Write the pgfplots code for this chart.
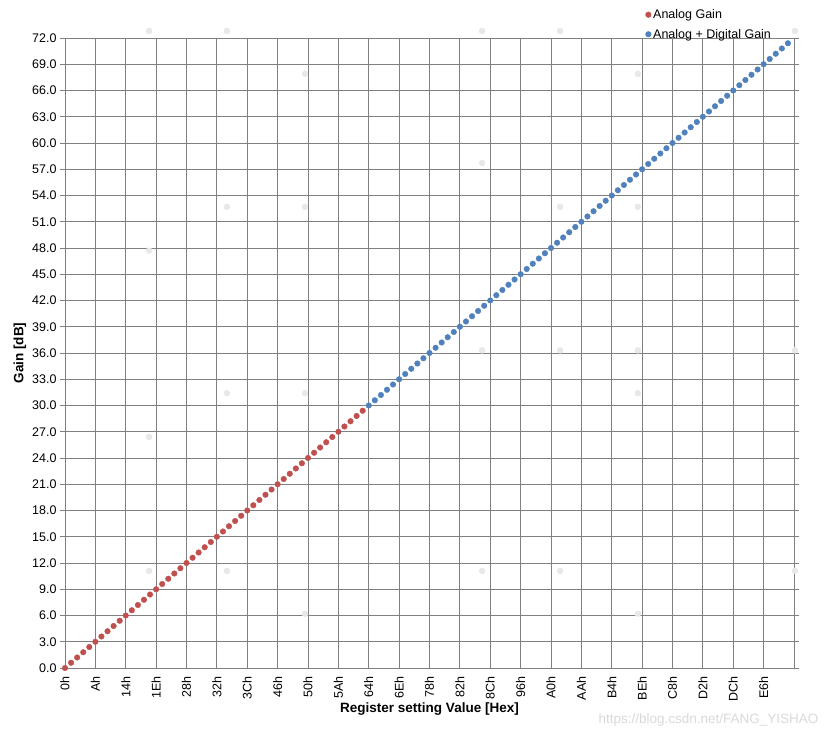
\documentclass[border=0pt]{standalone}
\usepackage{fontspec}
\setmainfont{Liberation Sans}
\usepackage{pgfplots}
\pgfplotsset{compat=1.18}
\definecolor{exred}{RGB}{192,80,77}
\definecolor{exblue}{RGB}{79,129,189}
\definecolor{gridgray}{RGB}{128,128,128}
\definecolor{ghost}{RGB}{232,232,232}
\begin{document}
\begin{tikzpicture}
\begin{axis}[
    scale only axis,
    width=729pt, height=630pt,
    xmin=0, xmax=240, ymin=0, ymax=72,
    clip=false,
    axis line style={gridgray},
    grid=major,
    grid style={gridgray, line width=0.9pt},
    xtick={0,10,...,230},
    xticklabels={0h,Ah,14h,1Eh,28h,32h,3Ch,46h,50h,5Ah,64h,6Eh,78h,82h,8Ch,96h,A0h,AAh,B4h,BEh,C8h,D2h,DCh,E6h},
    x tick label style={rotate=90, anchor=east, font=\fontsize{12.5}{14}\selectfont},
    xtick style={draw=none},
    ytick={0,3,...,72},
    y tick label style={font=\fontsize{12.5}{14}\selectfont},
    yticklabel style={/pgf/number format/.cd, fixed, fixed zerofill, precision=1, assume math mode=true},
    ytick style={gridgray, line width=0.9pt},
    tick align=outside,
    major tick length=5pt,
    xlabel={\textbf{Register setting Value [Hex]}},
    ylabel={\textbf{Gain [dB]}},
    label style={font=\fontsize{13.5}{15}\selectfont},
    xlabel style={yshift=6pt},
    ylabel style={yshift=-1pt},
    legend style={at={(0.792,1.052)}, anchor=north west, draw=none, fill=none,
        font=\fontsize{12.5}{14}\selectfont, row sep=5pt,
        /tikz/every even column/.append style={column sep=2pt}},
    legend cell align=left,
    legend image code/.code={\draw[#1] plot coordinates {(0pt,0pt)};},
]
\addplot[only marks, mark=*, mark size=2.8pt, mark options={draw=exred, fill=exred}] coordinates {
(0,0) (2,0.6) (4,1.2) (6,1.8) (8,2.4) (10,3.0) (12,3.6) (14,4.2) (16,4.8) (18,5.4)
(20,6.0) (22,6.6) (24,7.2) (26,7.8) (28,8.4) (30,9.0) (32,9.6) (34,10.2) (36,10.8) (38,11.4)
(40,12.0) (42,12.6) (44,13.2) (46,13.8) (48,14.4) (50,15.0) (52,15.6) (54,16.2) (56,16.8) (58,17.4)
(60,18.0) (62,18.6) (64,19.2) (66,19.8) (68,20.4) (70,21.0) (72,21.6) (74,22.2) (76,22.8) (78,23.4)
(80,24.0) (82,24.6) (84,25.2) (86,25.8) (88,26.4) (90,27.0) (92,27.6) (94,28.2) (96,28.8) (98,29.4)
};
\addlegendentry{Analog Gain}
\addplot[only marks, mark=*, mark size=2.8pt, mark options={draw=exblue, fill=exblue}] coordinates {
(100,30.0) (102,30.6) (104,31.2) (106,31.8) (108,32.4) (110,33.0) (112,33.6) (114,34.2) (116,34.8) (118,35.4)
(120,36.0) (122,36.6) (124,37.2) (126,37.8) (128,38.4) (130,39.0) (132,39.6) (134,40.2) (136,40.8) (138,41.4)
(140,42.0) (142,42.6) (144,43.2) (146,43.8) (148,44.4) (150,45.0) (152,45.6) (154,46.2) (156,46.8) (158,47.4)
(160,48.0) (162,48.6) (164,49.2) (166,49.8) (168,50.4) (170,51.0) (172,51.6) (174,52.2) (176,52.8) (178,53.4)
(180,54.0) (182,54.6) (184,55.2) (186,55.8) (188,56.4) (190,57.0) (192,57.6) (194,58.2) (196,58.8) (198,59.4)
(200,60.0) (202,60.6) (204,61.2) (206,61.8) (208,62.4) (210,63.0) (212,63.6) (214,64.2) (216,64.8) (218,65.4)
(220,66.0) (222,66.6) (224,67.2) (226,67.8) (228,68.4) (230,69.0) (232,69.6) (234,70.2) (236,70.8) (238,71.4)
};
\addlegendentry{Analog + Digital Gain}
% faint ghost points in the background
\addplot[only marks, mark=*, mark size=3pt, mark options={draw=ghost, fill=ghost}, forget plot] coordinates {
(27.7,72.8) (53.3,72.8) (137.3,72.8) (163.0,72.8) (240.3,72.8)
(79.0,67.9) (188.6,67.9)
(137.3,57.7)
(53.3,52.7) (79.0,52.7) (163.0,52.7) (188.6,52.7)
(27.7,47.7)
(137.3,36.3) (163.0,36.3) (188.6,36.3) (240.3,36.3)
(53.3,31.4) (79.0,31.4) (188.6,31.4)
(27.7,26.4)
(27.7,11.1) (53.3,11.1) (137.3,11.1) (163.0,11.1) (240.3,11.1)
(79.0,6.2) (188.6,6.2)
};
\end{axis}
\node[anchor=south east, text=black!15, font=\fontsize{13.5}{15}\selectfont] at ([xshift=28pt,yshift=-62pt]current axis.south east) {https://blog.csdn.net/FANG\_YISHAO};
\path ([xshift=-65pt,yshift=-62pt]current axis.south west) rectangle ([xshift=32pt,yshift=38pt]current axis.north east);
\end{tikzpicture}
\end{document}
